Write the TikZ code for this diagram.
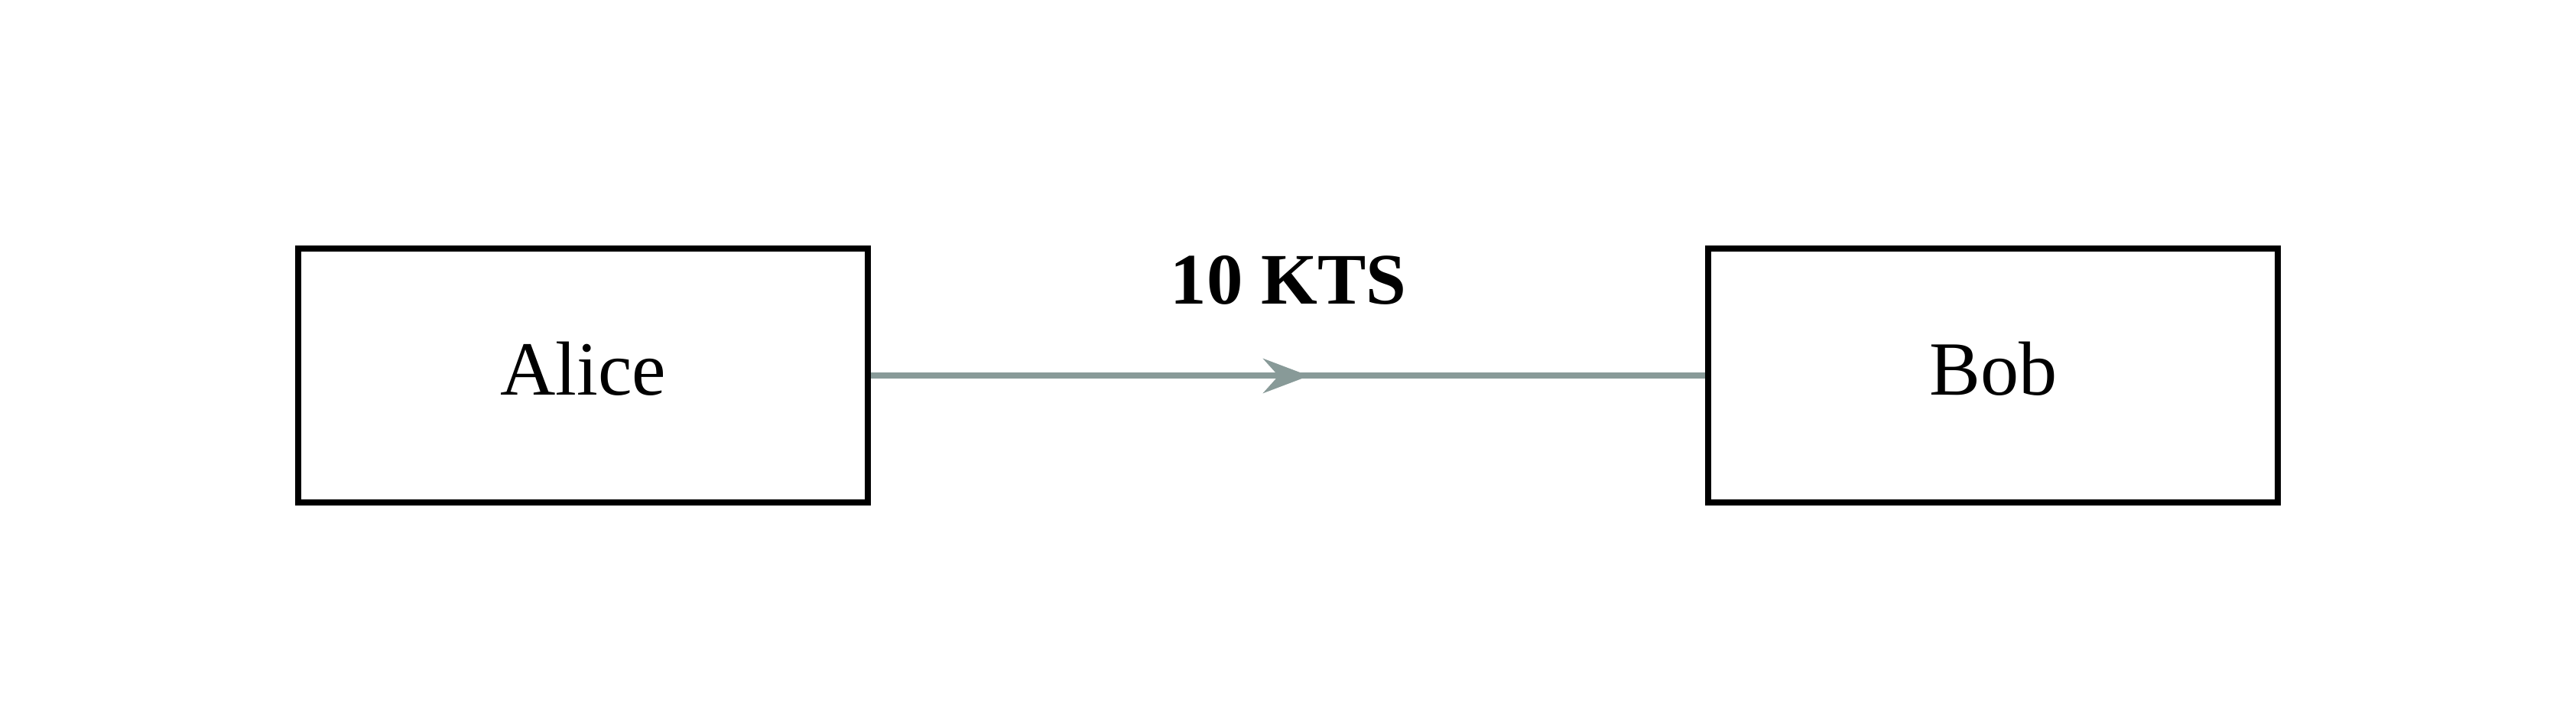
\documentclass[tikz,border=0pt]{standalone}
\usepackage{fontspec}
\setmainfont{Liberation Serif}
\usepackage{tikz}
\usetikzlibrary{positioning,arrows.meta,decorations.markings}
\usepackage{xcolor}
\definecolor{flowgray}{HTML}{889A98}

\begin{document}
\begin{tikzpicture}[
                node distance=10.91cm,
                box/.style={draw, line width=0.08cm, minimum width=7.45cm, minimum height=3.32cm,
                    text height=0.67cm, text depth=0.16cm, font=\fontsize{28.5}{34}\selectfont},
                flow/.style={draw=flowgray, line width=0.08cm, postaction={decorate},
                    decoration={markings, mark=at position 0.525 with {\arrow[flowgray]{Stealth[length=0.6cm, width=0.45cm, inset=0.2cm]}}}}
            ]
                \useasboundingbox (0,0) rectangle (33.69,9.48);

                % Two parties
                \node[box] (alice) at (7.628,4.565) {Alice};
                \node[box, right=of alice] (bob) {Bob};

                % Link with its speed
                \draw[flow] (alice) -- (bob)
                    node[pos=0.5, anchor=base, yshift=0.935cm, font=\fontsize{27}{32}\selectfont\bfseries] (speed) {10 KTS};
            \end{tikzpicture}
\end{document}
